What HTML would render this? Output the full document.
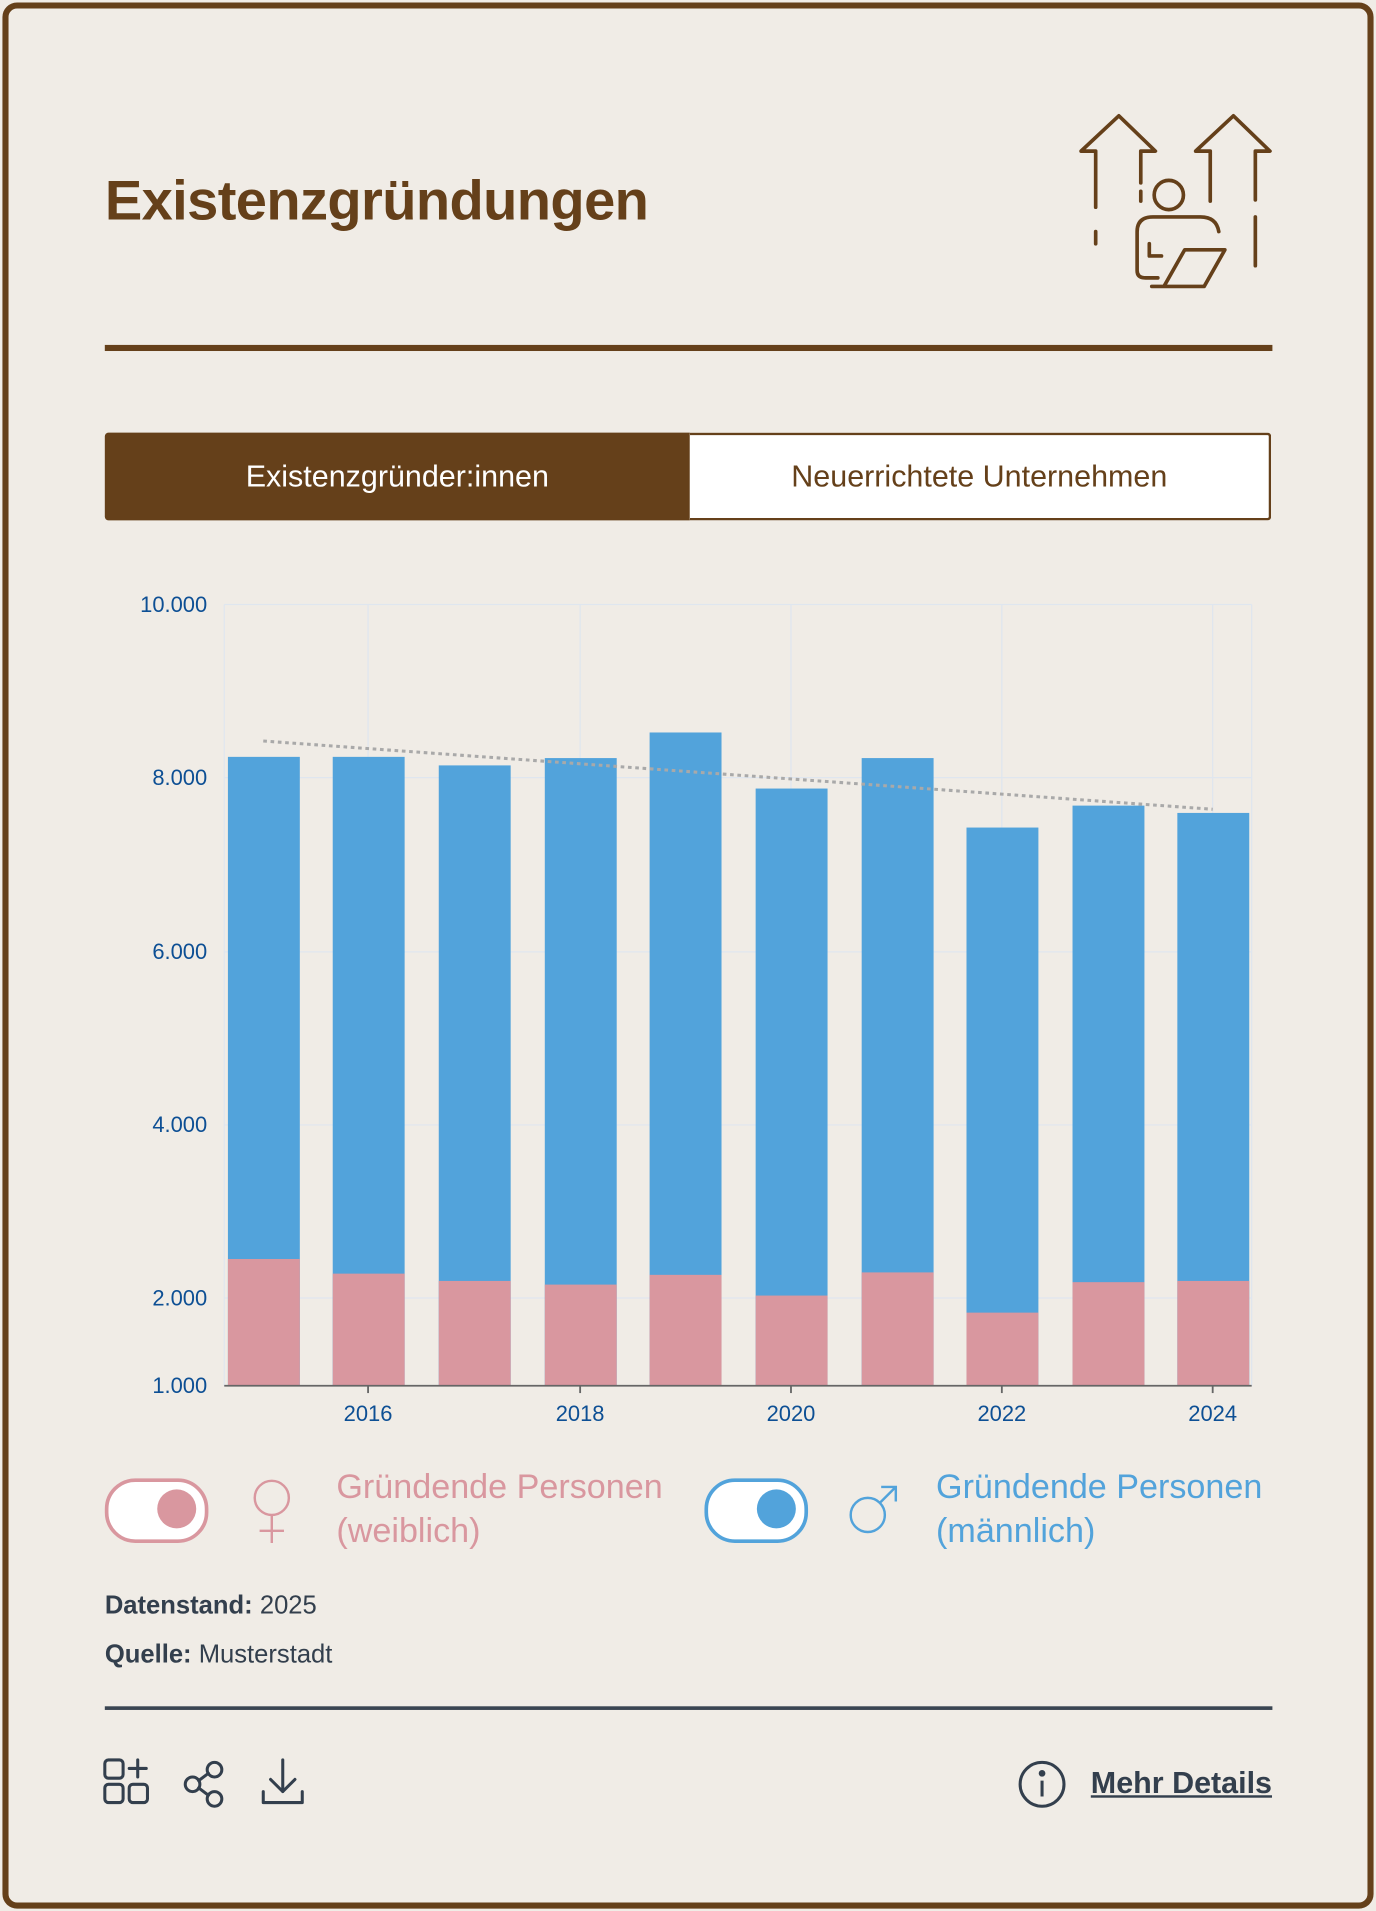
<!DOCTYPE html>
<html><head><meta charset="utf-8"><style>
html,body{margin:0;padding:0;background:#f0ece6;}
body{width:1376px;height:1911px;overflow:hidden;}
#w{width:1129px;height:1568px;transform:scale(1.21878);transform-origin:0 0;position:relative;font-family:"Liberation Sans",sans-serif;}
.card{position:absolute;left:2px;top:2px;width:1115px;height:1554px;border:5px solid #65401a;border-radius:12px;background:#f0ece6;}
.abs{position:absolute;}
</style></head><body><div id="w">
<div class="card"></div>
<div class="abs" style="left:86px;top:137px;font-size:46px;font-weight:bold;color:#65401a;letter-spacing:-0.5px">Existenzgründungen</div>
<svg class="abs" style="left:880px;top:88px" width="170" height="155" viewBox="880 88 170 155" fill="none" stroke="#65401a" stroke-width="3" stroke-linecap="round" stroke-linejoin="round">
<path d="M899 170V124H887L918 95L948 124H936V150"/><path d="M899 190V200M936 157V165"/>
<path d="M993 165V124H981L1012 95L1042 124H1030V164M1030 178V218"/>
<circle cx="959" cy="160" r="12"/>
<path d="M1000 190Q998 178 985 178H946Q933 178 933 190V222Q933 228 940 228H950M943 200V210H953"/>
<path d="M955 235L972 205H1005L988 235ZM945 235H988"/>
</svg>
<div class="abs" style="left:86px;top:283px;width:958px;height:5px;background:#65401a"></div>
<div class="abs" style="left:86px;top:355px;width:480px;height:72px;background:#65401a;color:#fff;font-size:25px;line-height:72px;text-align:center;border-radius:3px 0 0 3px">Existenzgründer:innen</div>
<div class="abs" style="left:566px;top:355px;width:475px;height:68px;border:2px solid #65401a;border-left:none;background:#fff;color:#65401a;font-size:25px;line-height:68px;text-align:center;border-radius:0 3px 3px 0">Neuerrichtete Unternehmen</div>
<svg class="abs" style="left:0;top:470px" width="1129" height="720" viewBox="0 470 1129 720" font-family="Liberation Sans, sans-serif">
<g stroke="#dfe6ef" stroke-width="1">
<line x1="184" y1="496" x2="1027" y2="496"/><line x1="184" y1="638" x2="1027" y2="638"/><line x1="184" y1="781" x2="1027" y2="781"/><line x1="184" y1="923" x2="1027" y2="923"/><line x1="184" y1="1065" x2="1027" y2="1065"/>
<line x1="184" y1="496" x2="184" y2="1137"/><line x1="302" y1="496" x2="302" y2="1137"/><line x1="476" y1="496" x2="476" y2="1137"/><line x1="649" y1="496" x2="649" y2="1137"/><line x1="822" y1="496" x2="822" y2="1137"/><line x1="995" y1="496" x2="995" y2="1137"/><line x1="1027" y1="496" x2="1027" y2="1137"/>
</g>
<g fill="#52a3db">
<rect x="187" y="621" width="59" height="516"/><rect x="273" y="621" width="59" height="516"/><rect x="360" y="628" width="59" height="509"/><rect x="447" y="622" width="59" height="515"/><rect x="533" y="601" width="59" height="536"/><rect x="620" y="647" width="59" height="490"/><rect x="707" y="622" width="59" height="515"/><rect x="793" y="679" width="59" height="458"/><rect x="880" y="661" width="59" height="476"/><rect x="966" y="667" width="59" height="470"/>
</g>
<g fill="#d9979f">
<rect x="187" y="1033" width="59" height="104"/><rect x="273" y="1045" width="59" height="92"/><rect x="360" y="1051" width="59" height="86"/><rect x="447" y="1054" width="59" height="83"/><rect x="533" y="1046" width="59" height="91"/><rect x="620" y="1063" width="59" height="74"/><rect x="707" y="1044" width="59" height="93"/><rect x="793" y="1077" width="59" height="60"/><rect x="880" y="1052" width="59" height="85"/><rect x="966" y="1051" width="59" height="86"/>
</g>
<line x1="216" y1="608" x2="995" y2="664" stroke="#a9a9a9" stroke-width="2.5" stroke-dasharray="3,3"/>
<line x1="184" y1="1137" x2="1027" y2="1137" stroke="#666" stroke-width="1.5"/>
<g stroke="#666" stroke-width="1.5"><line x1="302" y1="1137" x2="302" y2="1143"/><line x1="476" y1="1137" x2="476" y2="1143"/><line x1="649" y1="1137" x2="649" y2="1143"/><line x1="822" y1="1137" x2="822" y2="1143"/><line x1="995" y1="1137" x2="995" y2="1143"/></g>
<g fill="#0d4f94" font-size="18" text-anchor="end">
<text x="170" y="502">10.000</text><text x="170" y="644">8.000</text><text x="170" y="787">6.000</text><text x="170" y="929">4.000</text><text x="170" y="1071">2.000</text><text x="170" y="1143">1.000</text>
</g>
<g fill="#0d4f94" font-size="18" text-anchor="middle">
<text x="302" y="1166">2016</text><text x="476" y="1166">2018</text><text x="649" y="1166">2020</text><text x="822" y="1166">2022</text><text x="995" y="1166">2024</text>
</g>
</svg>
<div class="abs" style="left:86px;top:1213px;width:79px;height:47px;border:3px solid #d9979f;border-radius:25px;background:#fff"></div>
<div class="abs" style="left:129px;top:1222px;width:32px;height:32px;border-radius:50%;background:#d9979f"></div>
<svg class="abs" style="left:200px;top:1210px" width="50" height="60" fill="none" stroke="#d9979f" stroke-width="2"><circle cx="23" cy="19" r="14"/><path d="M23 33V56M13 46H33"/></svg>
<div class="abs" style="left:276px;top:1202px;font-size:28px;line-height:36px;color:#d9979f">Gründende Personen<br>(weiblich)</div>
<div class="abs" style="left:578px;top:1213px;width:79px;height:47px;border:3px solid #52a3db;border-radius:25px;background:#fff"></div>
<div class="abs" style="left:621px;top:1222px;width:32px;height:32px;border-radius:50%;background:#52a3db"></div>
<svg class="abs" style="left:690px;top:1210px" width="55" height="55" fill="none" stroke="#52a3db" stroke-width="2"><circle cx="22" cy="33" r="14"/><path d="M32 23L45 10M33 10H45V22"/></svg>
<div class="abs" style="left:768px;top:1202px;font-size:28px;line-height:36px;color:#52a3db">Gründende Personen<br>(männlich)</div>
<div class="abs" style="left:86px;top:1306px;font-size:21px;color:#333f4d"><b>Datenstand:</b> 2025</div>
<div class="abs" style="left:86px;top:1346px;font-size:21px;color:#333f4d"><b>Quelle:</b> Musterstadt</div>
<div class="abs" style="left:86px;top:1400px;width:958px;height:3px;background:#3a4552"></div>
<svg class="abs" style="left:80px;top:1438px" width="200" height="50" fill="none" stroke="#333f4d" stroke-width="2.5" stroke-linecap="round" stroke-linejoin="round">
<rect x="6" y="6" width="15" height="15" rx="3"/><rect x="6" y="26" width="15" height="15" rx="3"/><rect x="26" y="26" width="15" height="15" rx="3"/><path d="M33 6V20M26 13H40"/>
<circle cx="78" cy="26" r="6"/><circle cx="96" cy="14" r="6"/><circle cx="96" cy="38" r="6"/><path d="M83 23L91 17M83 29L91 35"/>
<path d="M152 6V32M142 22L152 32L162 22M136 32V41H168V32"/>
</svg>
<svg class="abs" style="left:833px;top:1442px" width="44" height="44" fill="none" stroke="#333f4d" stroke-width="2.5"><circle cx="22" cy="22" r="18"/><path d="M22 19V32"/><circle cx="22" cy="13" r="1.5" fill="#333f4d"/></svg>
<div class="abs" style="left:895px;top:1449px;font-size:25px;font-weight:bold;color:#333f4d;text-decoration:underline">Mehr Details</div>
</div></body></html>
